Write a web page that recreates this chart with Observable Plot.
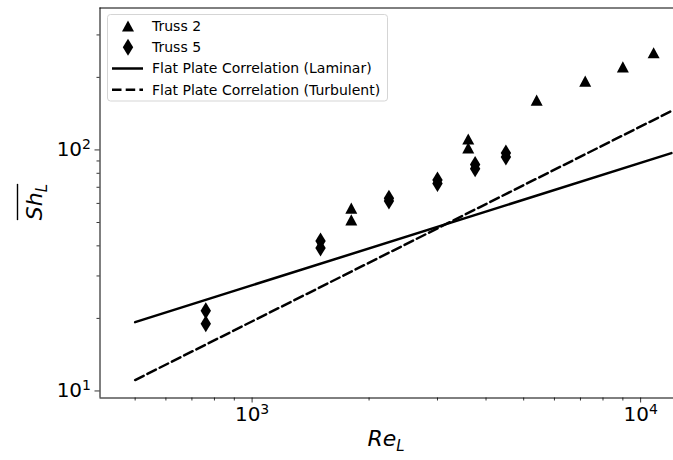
<!DOCTYPE html>
<html><head><meta charset="utf-8">
<script src="https://cdn.jsdelivr.net/npm/d3@7"></script>
<script src="https://cdn.jsdelivr.net/npm/@observablehq/plot@0.6"></script>
<style>
body{margin:0;background:#fff}
svg{font-family:"DejaVu Sans",sans-serif}
</style>
</head><body><div id="chart"></div>
<script>
// ---- data ----
const truss2Re = [1800, 1800, 3600, 3600, 5400, 7200, 9000, 10800];
const truss2Sh = [57.4, 51.3, 111, 102, 161, 193, 221, 253];
const truss5Re = [760, 760, 1500, 1500, 2250, 2250, 3000, 3000, 3750, 3750, 4500, 4500];
const truss5Sh = [21.5, 19.0, 41.9, 39.2, 63, 61.4, 75, 72.5, 87, 83.5, 97, 93.5];
const corrRe = [500, 12000];
const laminarSh = [19.3, 97];
const turbulentSh = [11.1, 145];

const xMajor = [1000, 10000];
const xMajorExp = ["3", "4"];
const xMinor = [500, 600, 700, 800, 900, 2000, 3000, 4000, 5000, 6000, 7000, 8000, 9000];
const yMajor = [10, 100];
const yMajorExp = ["1", "2"];
const yMinor = [20, 30, 40, 50, 60, 70, 80, 90, 200, 300];

const legendLabels = ["Truss 2", "Truss 5", "Flat Plate Correlation (Laminar)", "Flat Plate Correlation (Turbulent)"];
const xDomain = [406, 12150];
const yDomain = [9.35, 388];

// ---- derived tables ----
const t2 = truss2Re.map((r, i) => ({Re: r, Sh: truss2Sh[i]}));
const t5 = truss5Re.map((r, i) => ({Re: r, Sh: truss5Sh[i]}));
const lam = corrRe.map((r, i) => ({Re: r, Sh: laminarSh[i]}));
const turb = corrRe.map((r, i) => ({Re: r, Sh: turbulentSh[i]}));

const triSym = {draw(ctx) { const w = 6, h = 5.6; ctx.moveTo(0, -h); ctx.lineTo(w, h); ctx.lineTo(-w, h); ctx.closePath(); }};
const dmdSym = {draw(ctx) { const w = 5.2, h = 8.5; ctx.moveTo(0, -h); ctx.lineTo(w, 0); ctx.lineTo(0, h); ctx.lineTo(-w, 0); ctx.closePath(); }};

const plot = Plot.plot({
  width: 673, height: 460,
  marginLeft: 99.5, marginRight: 0, marginTop: 7.5, marginBottom: 62.5,
  style: {fontFamily: "DejaVu Sans", background: "white", color: "black"},
  x: {type: "log", domain: xDomain},
  y: {type: "log", domain: yDomain},
  marks: [
    Plot.axisX(xMinor, {tickSize: 3, tickFormat: () => "", label: null, strokeWidth: 0.8}),
    Plot.axisX(xMajor, {tickSize: 5, tickPadding: 4, tickFormat: d => "10^" + xMajorExp[xMajor.indexOf(d)], fontSize: 20, label: null, strokeWidth: 0.8}),
    Plot.axisY(yMinor, {tickSize: 3, tickFormat: () => "", label: null, strokeWidth: 0.8}),
    Plot.axisY(yMajor, {tickSize: 5, tickPadding: 4, tickFormat: d => "10^" + yMajorExp[yMajor.indexOf(d)], fontSize: 20, label: null, strokeWidth: 0.8}),
    Plot.line(lam, {x: "Re", y: "Sh", stroke: "black", strokeWidth: 2.5, clip: true}),
    Plot.line(turb, {x: "Re", y: "Sh", stroke: "black", strokeWidth: 2.5, strokeDasharray: "9.5,4.2", clip: true}),
    Plot.dot(t2, {x: "Re", y: "Sh", symbol: triSym, fill: "black", stroke: "none", r: 6}),
    Plot.dot(t5, {x: "Re", y: "Sh", symbol: dmdSym, fill: "black", stroke: "none", r: 6}),
    Plot.ruleX([xDomain[0]], {stroke: "black", strokeWidth: 1}),
    Plot.ruleY([yDomain[0]], {stroke: "black", strokeWidth: 1}),
    Plot.ruleY([yDomain[1]], {stroke: "black", strokeWidth: 1})
  ]
});
document.getElementById("chart").appendChild(plot);

const svg = d3.select(plot);
// superscript tick labels
svg.selectAll("text").each(function() {
  const t = this.textContent;
  if (/^10\^\d$/.test(t)) {
    const sel = d3.select(this);
    sel.text(null);
    sel.append("tspan").text("10");
    sel.append("tspan").attr("font-size", 14).attr("dy", "-0.5em").text(t.slice(3));
  }
});

// axis labels
const xl = svg.append("text").attr("x", 386).attr("y", 446).attr("text-anchor", "middle")
  .attr("font-size", 22).attr("font-style", "italic").attr("fill", "black");
xl.append("tspan").text("Re");
xl.append("tspan").attr("font-size", 15).attr("dy", 5).text("L");

const yg = svg.append("g").attr("transform", "translate(42,202) rotate(-90)");
const yl = yg.append("text").attr("x", 0).attr("y", 0).attr("text-anchor", "middle")
  .attr("font-size", 22).attr("font-style", "italic").attr("fill", "black");
yl.append("tspan").text("Sh");
yl.append("tspan").attr("font-size", 15).attr("dy", 5).text("L");
const bb = yl.node().getBBox();
yg.append("line").attr("x1", bb.x).attr("x2", bb.x + bb.width).attr("y1", -24.5).attr("y2", -24.5)
  .attr("stroke", "black").attr("stroke-width", 1.4);

// legend
const lg = svg.append("g").attr("text-anchor", "start");
lg.append("rect").attr("x", 107.5).attr("y", 14.5).attr("width", 280).attr("height", 86.5).attr("rx", 3)
  .attr("fill", "white").attr("fill-opacity", 0.8).attr("stroke", "#d5d5d5").attr("stroke-width", 1);
const rows = [26, 47.3, 68.5, 89.7];
lg.append("path").attr("d", d3.symbol(triSym)()).attr("transform", `translate(128,${rows[0]})`).attr("fill", "black");
lg.append("path").attr("d", d3.symbol(dmdSym)()).attr("transform", `translate(128,${rows[1]})`).attr("fill", "black");
lg.append("line").attr("x1", 112).attr("x2", 143).attr("y1", rows[2]).attr("y2", rows[2]).attr("stroke", "black").attr("stroke-width", 2.5);
lg.append("line").attr("x1", 112).attr("x2", 143).attr("y1", rows[3]).attr("y2", rows[3]).attr("stroke", "black").attr("stroke-width", 2.5).attr("stroke-dasharray", "9.5,4.2");
legendLabels.forEach((t, i) => {
  lg.append("text").attr("x", 152).attr("y", rows[i]).attr("dy", "0.35em").attr("text-anchor", "start")
    .attr("font-size", 14).attr("fill", "black").text(t);
});
</script>
</body></html>
